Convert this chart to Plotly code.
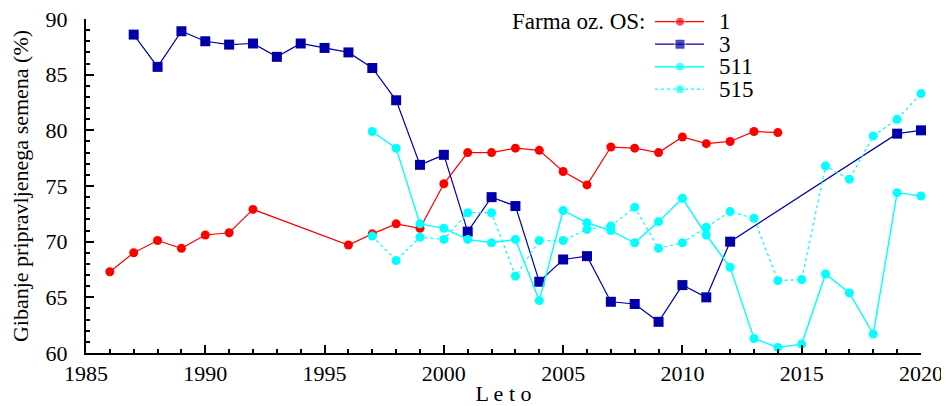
import plotly.graph_objects as go

# ---------------- data ----------------
years_1 = [1986, 1987, 1988, 1989, 1990, 1991, 1992,
           1996, 1997, 1998, 1999, 2000, 2001, 2002, 2003, 2004, 2005,
           2006, 2007, 2008, 2009, 2010, 2011, 2012, 2013, 2014]
vals_1 = [67.3, 69.0, 70.1, 69.4, 70.6, 70.8, 72.9,
          69.7, 70.7, 71.6, 71.2, 75.2, 78.0, 78.0, 78.4, 78.2, 76.3,
          75.1, 78.5, 78.4, 78.0, 79.4, 78.8, 79.0, 79.9, 79.8]

years_3 = [1987, 1988, 1989, 1990, 1991, 1992, 1993, 1994, 1995, 1996,
           1997, 1998, 1999, 2000, 2001, 2002, 2003, 2004, 2005, 2006,
           2007, 2008, 2009, 2010, 2011, 2012, 2019, 2020]
vals_3 = [88.6, 85.7, 88.9, 88.0, 87.7, 87.8, 86.6, 87.8, 87.4, 87.0,
          85.6, 82.7, 76.9, 77.8, 70.9, 74.0, 73.2, 66.4, 68.4, 68.7,
          64.6, 64.4, 62.8, 66.1, 65.0, 70.0, 79.7, 80.0]

years_511 = list(range(1997, 2021))
vals_511 = [79.9, 78.4, 71.6, 71.2, 70.2, 69.9, 70.2, 64.7, 72.8, 71.7,
            71.0, 69.9, 71.8, 73.9, 70.6, 67.7, 61.3, 60.5, 60.8, 67.1,
            65.4, 61.7, 74.4, 74.1]

years_515 = list(range(1997, 2021))
vals_515 = [70.5, 68.3, 70.4, 70.2, 72.6, 72.6, 66.9, 70.1, 70.1, 71.1,
            71.4, 73.1, 69.4, 69.9, 71.3, 72.7, 72.1, 66.5, 66.6, 76.8,
            75.6, 79.5, 81.0, 83.3]

series_names = ["1", "3", "511", "515"]
legend_title = "Farma oz. OS:"
x_title = "L e t o"
y_title = "Gibanje pripravljenega semena (%)"

# ---------------- styles ----------------
FONT = "Liberation Serif"
styles = [
    dict(color="#ff0000", symbol="circle", size=9, dash="solid", width=1.2),
    dict(color="#0000aa", symbol="square", size=10, dash="solid", width=1.2),
    dict(color="#00ffff", symbol="circle", size=9, dash="solid", width=1.4),
    dict(color="#00ffff", symbol="circle", size=9, dash="3px,3px", width=1.2),
]
data = [(years_1, vals_1), (years_3, vals_3), (years_511, vals_511), (years_515, vals_515)]

fig = go.Figure()
for (xs, ys), name, st in zip(data, series_names, styles):
    fig.add_trace(go.Scatter(
        x=xs, y=ys, name=name, mode="lines+markers",
        line=dict(color=st["color"], width=st["width"], dash=st["dash"]),
        marker=dict(color=st["color"], symbol=st["symbol"], size=st["size"]),
        cliponaxis=False, showlegend=False,
    ))

# page offset (body margin) compensation
OFF = 8
W, H = 949 - OFF, 406 - OFF
# plot-area edges in screenshot pixels
L, R, T, B = 86, 921, 19, 353
row_y0, row_dy = 21.7, 22.5
line_x0, line_x1, mark_x, label_x = 655, 704, 680, 717
for i, (name, st) in enumerate(zip(series_names, styles)):
    yy = row_y0 + i * row_dy
    fig.add_trace(go.Scatter(
        x=[line_x0, mark_x, line_x1], y=[yy, yy, yy], xaxis="x2", yaxis="y2",
        mode="lines+markers",
        line=dict(color=st["color"], width=st["width"], dash=st["dash"]),
        marker=dict(color=st["color"], symbol=st["symbol"], size=[0, st["size"], 0]),
        cliponaxis=False, showlegend=False, hoverinfo="skip",
    ))
    fig.add_annotation(x=label_x, y=yy, xref="x2", yref="y2", text=name,
                       showarrow=False, xanchor="left", yanchor="middle",
                       font=dict(family=FONT, size=23, color="black"))
fig.add_annotation(x=648, y=row_y0, xref="x2", yref="y2", text=legend_title,
                   showarrow=False, xanchor="right", yanchor="middle",
                   font=dict(family=FONT, size=23, color="black"))

axis_common = dict(
    showline=True, linecolor="black", linewidth=2, mirror=False,
    ticks="inside", ticklen=8, tickwidth=1.5, tickcolor="black",
    showgrid=False, zeroline=False, automargin=False,
    ticklabeloverflow="allow",
    tickfont=dict(family=FONT, size=22, color="black"),
)
fig.update_layout(
    width=W, height=H,
    margin=dict(l=L - OFF, r=W - (R - OFF), t=T - OFF, b=H - (B - OFF), autoexpand=False),
    paper_bgcolor="white", plot_bgcolor="white",
    font=dict(family=FONT, size=22, color="black"),
    xaxis=dict(range=[1985, 2020], dtick=5, tick0=1985,
               minor=dict(dtick=1, ticks="inside", ticklen=4, tickcolor="black", tickwidth=1.5),
               title=dict(text=x_title, font=dict(family=FONT, size=22), standoff=0),
               ticklabelstandoff=0,
               **axis_common),
    yaxis=dict(range=[60, 90], dtick=5, tick0=60,
               minor=dict(dtick=1, ticks="inside", ticklen=4, tickcolor="black", tickwidth=1.5),
               title=dict(text=y_title, font=dict(family=FONT, size=22), standoff=14),
               ticklabelstandoff=12,
               **axis_common),
    xaxis2=dict(range=[L, R], overlaying="x", anchor="y2", visible=False),
    yaxis2=dict(range=[B, T], overlaying="y", anchor="x2", visible=False),
    showlegend=False,
)

fig.write_html("out.html")
